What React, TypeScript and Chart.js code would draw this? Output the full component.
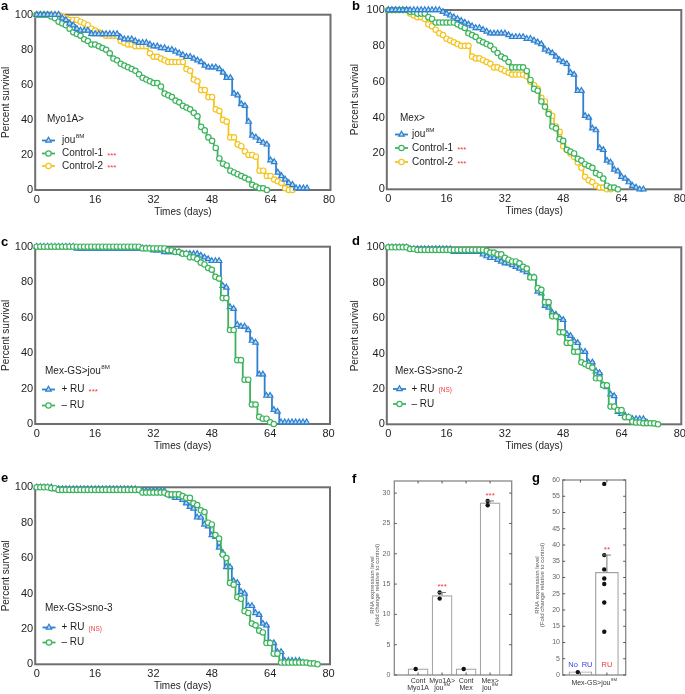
import React, { useEffect, useRef } from 'react';
import { Chart, registerables } from 'chart.js';
import { drawPoint } from 'chart.js/helpers';

Chart.register(...registerables);

const FONT = '"Liberation Sans", Arial, Helvetica, sans-serif';
const TEXT = '#1e1e1e';
const FRAME = '#6e6e6e';
const RED = '#ee3b3b';

// ---------------- DATA ----------------
// Survival panels: percent survival, array index = day
const survXTicks = [0, 16, 32, 48, 64, 80];
const survYTicks = [0, 20, 40, 60, 80, 100];

// a: Myo1A>
const aJou8M = [100,100,100,100,100,100,100,98,97,95,94,92,91,91,91,89,89,89,89,89,89,89,89,
  87,86,86,86,85,84,84,84,83,82,82,81,81,80,80,79,78,77,76,76,75,74,73,71,70,70,70,69,67,64,
  64,55,54,49,48,39,31,30,28,27,26,17,16,10,8,6,4,3,1,1,1,1];
const aControl1 = [100,100,100,100,99,98,96,95,94,92,90,89,88,86,85,83,83,82,81,80,78,75,74,72,
  71,70,69,68,66,64,63,62,61,61,59,55,54,53,51,50,48,47,46,44,42,36,34,30,28,24,18,15,14,11,10,
  9,8,7,6,3,2,1,1,0];
const aControl2 = [100,100,100,100,100,100,100,99,98,97,97,97,96,95,94,92,91,90,89,88,88,88,88,
  85,84,83,83,82,82,82,82,78,76,76,75,74,73,73,73,73,73,69,68,63,62,57,57,53,53,46,45,40,39,30,
  30,26,25,22,20,20,19,11,11,8,8,6,5,4,1,0,0];

// b: Mex>
const bJou8M = [100,100,100,100,100,100,100,100,100,100,100,100,100,100,100,
  99,98,97,96,95,94,93,92,91,90, 90,89,88,87,87,87,87,87,86,85, 85,85,85,84,84,83,82,81,78,77,
  76,74,72,71,70,65,64,55,55,41, 40,34,33,23,22,16,15,11,10,7, 6,4,2,1,0,0];
const bControl1 = [100,100,100,100,100,100, 99,99,98,98,98,96,95,93,93,93, 93,93,93,92,91,90,87,86,85,83,
  82,81,80,78,76,74,73,71,68,68, 68,68,66,61,56,55,49,46,42,35, 34,28,27,22,21,20,17,16,14,13,
  12,9,8,6,2,1,1,0];
const bControl2 = [100,100,100,100,100,100, 98,97,96,96,95,92,91,89,87,86, 84,83,82,81,80,80,80,74,73,73,
  72,71,70,68,68,67,66,65,64,64, 64,64,63,60,58,56,51,49,43,41, 35,32,24,22,20,18,15,12,7,5,
  4,2,1,1,0,0];

// c: Mex-GS>jou8M
const cPlusRU = [100,100,100,100,100,100,100,100,100,100,100,
  99,99,99,99,99,99,99,99,99,99,99,99,99,99,99,99,99,99,99,99,99,
  98,98,98,97,97,97,97,97, 96,96,96,96,96,95,94,93,92,92, 92,78,77,66,65,56,55,55,53,47,
  46,28,28,16,16,8,7,1,1,1, 1,1,1,1,1];
const cMinusRU = [100,100,100,100,100,100,100,100,100,100,100,100,100,100,100,100,100,100,100,100,
  100,100,100,100,100,100,100,100,100, 99,99,99,99,99,99,99,
  98,98,97,97,96,96,94,94,93,91, 90,88,87,83,82,71,71,53,53,36, 36,25,25,11,11,4,3,3,1,0];

// d: Mex-GS>sno-2
const dPlusRU = [100,100,100,100,100,100, 99,99,99,99,99,99,99,99,99,99,99,99,
  97.5,97.5,97.5,97.5,97.5,97.5,97.5,97.5, 96,95,94,94,93,92,91,91,90,89,
  88,87,86,83,83,75,74,67,66,63, 62,60,59,51,50,47,46,41,41,35, 35,30,29,22,21,17,16,7,6,5,
  4,3,3,3,3,1];
const dMinusRU = [100,100,100,100,100,100, 99,99,
  98.5,98.5,98.5,98.5,98.5,98.5,98.5,98.5,98.5,98.5,98.5,98.5,98.5,98.5,98.5,98.5,98.5,98.5,98.5,
  98,97,97,96,96,94,93,92,92,91, 89,88,83,83,77,76,69,69,61,61, 52,52,46,46,41,41,35,34,33,32,
  26,26,22,22,10,10,8,8,4,4, 1.5,1,1,0.6,0.6,0.6,0.5,0];

// e: Mex-GS>sno-3
const ePlusRU = [100,100,100,100,100,
  99,99,99,99,99,99,99,99,99,99,99,99,99,99,99,99,99,99,99,99,99,99,99,
  98,98,98,98,98,98,98,98, 96,95,94,94,93,91,89,88,83,83, 79,78,73,72,66,63,55,55,47,46,
  41,40,33,33,29,28,23,22,12,12, 7,7,2,2,2,2,2,1];
const eMinusRU = [100,100,100,100, 99.5,99.5,
  98.5,98.5,98.5,98.5,98.5,98.5,98.5,98.5,98.5,98.5,98.5,98.5,98.5,98.5,98.5,98.5,98.5,98.5,98.5,98.5,98.5,98.5,98.5,
  97,97,97,97,97,97,97, 96,96,96,96,95,94,94,91,90,87, 86,80,79,73,71,62,60,46,45,38,
  37,30,29,23,22,19,18,12,12,6, 6,1,1,1,1,1,1,1,1,0.5,0.5,0];

// f: RNA expression level
const fCategories = ['Cont|Myo1A', 'Myo1A>|jou^8M', 'Cont|Mex', 'Mex>|jou^8M'];
const fMeans = [1.0, 13.1, 1.0, 28.4];
const fErrTop = [1.0, 13.6, 1.0, 28.7];
const fDots = [[1.0], [13.6, 12.6], [1.0], [28.7, 28.0]];
const fSig = ['', '***', '', '***'];
const fYTicks = [0, 5, 10, 15, 20, 25, 30];

// g: RNA expression level, Mex-GS>jou8M
const gCategories = ['No\u2002RU', 'RU'];
const gMeans = [1.0, 31.6];
const gErrTop = [1.0, 36.9];
const gDots = [[0.9], [58.8, 36.9, 32.5, 29.7, 28.0, 22.3, 13.3]];
const gSig = ['', '**'];
const gYTicks = [0, 5, 10, 15, 20, 25, 30, 35, 40, 45, 50, 55, 60];

// ---------------- STYLES / LAYOUT ----------------
type Box = { x: number; y: number; w: number; h: number };
type Area = { l: number; t: number; r: number; b: number };
type Style = { line: string; fill: string; shape: 'triangle' | 'circle'; r: number };

const BLUE: Style = { line: '#2f80d0', fill: '#bcdcf6', shape: 'triangle', r: 3.2 };
const GREEN: Style = { line: '#3cb45c', fill: '#ffffff', shape: 'circle', r: 2.7 };
const YELLOW: Style = { line: '#f4c420', fill: '#ffffff', shape: 'circle', r: 2.7 };

type SeriesDef = { label: string; values: number[]; st: Style; mark?: string; z: number };
type PanelDef = {
  box: Box; area: Area; letter: string; letterXY: [number, number]; yTitleX: number;
  legendTitle: string; legendTitleXY: [number, number]; markerX: number; textX: number; rowYs: number[];
  series: SeriesDef[];
};

const panels: PanelDef[] = [
  {
    box: { x: 0, y: 0, w: 342, h: 218 }, area: { l: 36.7, t: 14.7, r: 329, b: 190 },
    letter: 'a', letterXY: [1, 10], yTitleX: 6,
    legendTitle: 'Myo1A>', legendTitleXY: [47, 119], markerX: 48.5, textX: 62, rowYs: [140.5, 153.5, 166],
    series: [
      { label: 'jou^8M', values: aJou8M, st: BLUE, z: 0 },
      { label: 'Control-1', values: aControl1, st: GREEN, mark: '***', z: 1 },
      { label: 'Control-2', values: aControl2, st: YELLOW, mark: '***', z: 2 },
    ],
  },
  {
    box: { x: 342, y: 0, w: 343, h: 218 }, area: { l: 388.3, t: 10, r: 680, b: 189.3 },
    letter: 'b', letterXY: [352, 10], yTitleX: 355.5,
    legendTitle: 'Mex>', legendTitleXY: [400, 118], markerX: 401.5, textX: 412, rowYs: [134.5, 148, 162],
    series: [
      { label: 'jou^8M', values: bJou8M, st: BLUE, z: 0 },
      { label: 'Control-1', values: bControl1, st: GREEN, mark: '***', z: 1 },
      { label: 'Control-2', values: bControl2, st: YELLOW, mark: '***', z: 2 },
    ],
  },
  {
    box: { x: 0, y: 228, w: 342, h: 228 }, area: { l: 36.7, t: 246.7, r: 328.5, b: 424 },
    letter: 'c', letterXY: [1, 246], yTitleX: 6,
    legendTitle: 'Mex-GS>jou^8M', legendTitleXY: [45, 371], markerX: 48.5, textX: 61.5, rowYs: [389.5, 405.5],
    series: [
      { label: '+ RU', values: cPlusRU, st: BLUE, mark: '***', z: 1 },
      { label: '\u2013 RU', values: cMinusRU, st: GREEN, z: 0 },
    ],
  },
  {
    box: { x: 342, y: 228, w: 343, h: 228 }, area: { l: 388.3, t: 247.3, r: 680, b: 424.3 },
    letter: 'd', letterXY: [352, 245], yTitleX: 355.5,
    legendTitle: 'Mex-GS>sno-2', legendTitleXY: [395, 371.5], markerX: 399.5, textX: 411.5, rowYs: [389, 404],
    series: [
      { label: '+ RU', values: dPlusRU, st: BLUE, mark: '(NS)', z: 1 },
      { label: '\u2013 RU', values: dMinusRU, st: GREEN, z: 0 },
    ],
  },
  {
    box: { x: 0, y: 468, w: 342, h: 226 }, area: { l: 36.7, t: 487.3, r: 328.5, b: 664.3 },
    letter: 'e', letterXY: [1, 482], yTitleX: 6,
    legendTitle: 'Mex-GS>sno-3', legendTitleXY: [45, 608], markerX: 49, textX: 61.5, rowYs: [627.5, 642.5],
    series: [
      { label: '+ RU', values: ePlusRU, st: BLUE, mark: '(NS)', z: 1 },
      { label: '\u2013 RU', values: eMinusRU, st: GREEN, z: 0 },
    ],
  },
];

type BarDef = {
  box: Box; area: Area; letter: string; letterXY: [number, number];
  xMin: number; xMax: number; yMax: number; yTicks: number[];
  means: number[]; errTop: number[]; dots: number[][]; sig: string[];
  barW: number; jitter: number; tickPad: number;
  catLabels?: string[]; catLabelYs?: number[];
  inner?: { labels: string[]; colors: string[]; y: number };
  group?: { label: string; y: number };
  yTitleLines: string[]; yTitleXs: number[]; yTitleCY: number;
};

const barPanels: BarDef[] = [
  {
    box: { x: 350, y: 470, w: 180, h: 224 }, area: { l: 394.3, t: 481, r: 511.7, b: 675 },
    letter: 'f', letterXY: [352, 483],
    xMin: -0.99, xMax: 3.9, yMax: 32, yTicks: fYTicks,
    means: fMeans, errTop: fErrTop, dots: fDots, sig: fSig,
    barW: 20, jitter: -0.1, tickPad: 4,
    catLabels: fCategories, catLabelYs: [680.7, 687.9],
    yTitleLines: ['RNA expression level', '(fold change relative to control)'], yTitleXs: [372, 377.8], yTitleCY: 585,
  },
  {
    box: { x: 530, y: 470, w: 155, h: 224 }, area: { l: 562.7, t: 480, r: 625.7, b: 675 },
    letter: 'g', letterXY: [532, 482],
    xMin: -0.67, xMax: 1.71, yMax: 60, yTicks: gYTicks,
    means: gMeans, errTop: gErrTop, dots: gDots, sig: gSig,
    barW: 23, jitter: -0.1, tickPad: 2.7,
    inner: { labels: gCategories, colors: ['#3a44e0', '#e23a3e'], y: 665 },
    group: { label: 'Mex-GS>jou^8M', y: 683 },
    yTitleLines: ['RNA expression level', '(Fold change relative to control)'], yTitleXs: [537, 542.8], yTitleCY: 585,
  },
];

// ---------------- HELPERS ----------------
function rich(ctx: CanvasRenderingContext2D, text: string, x: number, y: number, size: number,
  color: string, align: 'left' | 'center' = 'left'): number {
  const [main, sup] = text.split('^');
  const ss = size * 0.62;
  ctx.font = `${size}px ${FONT}`;
  const w1 = ctx.measureText(main).width;
  let w2 = 0;
  if (sup) { ctx.font = `${ss}px ${FONT}`; w2 = ctx.measureText(sup).width + 0.5; }
  const x0 = align === 'center' ? x - (w1 + w2) / 2 : x;
  ctx.fillStyle = color; ctx.textAlign = 'left'; ctx.textBaseline = 'middle';
  ctx.font = `${size}px ${FONT}`;
  ctx.fillText(main, x0, y);
  if (sup) { ctx.font = `${ss}px ${FONT}`; ctx.fillText(sup, x0 + w1 + 0.5, y - size * 0.42); }
  return w1 + w2;
}

function geometry(box: Box, area: Area) {
  return {
    padTop: area.t - box.y,
    padRight: box.x + box.w - area.r,
    yW: area.l - box.x,
    xH: box.y + box.h - area.b,
  };
}

function survivalPlugin(p: PanelDef) {
  return {
    id: 'surv-' + p.letter,
    beforeDatasetsDraw(chart: any) {
      const { ctx, chartArea: a } = chart;
      ctx.save();
      ctx.strokeStyle = FRAME; ctx.lineWidth = 2;
      ctx.strokeRect(a.left - 1.5, a.top, a.right - a.left + 3, a.bottom - a.top);
      ctx.restore();
    },
    afterDraw(chart: any) {
      const ctx: CanvasRenderingContext2D = chart.ctx;
      ctx.save();
      ctx.translate(-p.box.x, -p.box.y);
      // panel letter
      ctx.font = `bold 13px ${FONT}`; ctx.fillStyle = '#000';
      ctx.textAlign = 'left'; ctx.textBaseline = 'alphabetic';
      ctx.fillText(p.letter, p.letterXY[0], p.letterXY[1]);
      // y title
      ctx.save();
      ctx.translate(p.yTitleX, (p.area.t + p.area.b) / 2);
      ctx.rotate(-Math.PI / 2);
      ctx.font = `10px ${FONT}`; ctx.fillStyle = TEXT; ctx.textAlign = 'center'; ctx.textBaseline = 'middle';
      ctx.fillText('Percent survival', 0, 0);
      ctx.restore();
      // x title
      ctx.font = `10px ${FONT}`; ctx.fillStyle = TEXT; ctx.textAlign = 'center'; ctx.textBaseline = 'middle';
      ctx.fillText('Times (days)', (p.area.l + p.area.r) / 2, p.area.b + 22);
      // legend
      rich(ctx, p.legendTitle, p.legendTitleXY[0], p.legendTitleXY[1], 10, TEXT);
      p.series.forEach((s, i) => {
        const y = p.rowYs[i];
        ctx.strokeStyle = s.st.line; ctx.lineWidth = 1.8;
        ctx.beginPath(); ctx.moveTo(p.markerX - 6.5, y); ctx.lineTo(p.markerX + 6.5, y); ctx.stroke();
        ctx.fillStyle = s.st.fill; ctx.strokeStyle = s.st.line; ctx.lineWidth = 1.2;
        drawPoint(ctx, { pointStyle: s.st.shape, radius: s.st.r, borderWidth: 1.2, rotation: 0 } as any, p.markerX, y);
        const w = rich(ctx, s.label, p.textX, y, 10, TEXT);
        if (s.mark === '***') {
          ctx.font = `8px ${FONT}`; ctx.fillStyle = RED; ctx.textAlign = 'left'; ctx.textBaseline = 'middle';
          ctx.fillText('***', p.textX + w + 4, y + 2);
        } else if (s.mark) {
          ctx.font = `6.5px ${FONT}`; ctx.fillStyle = RED; ctx.textAlign = 'left'; ctx.textBaseline = 'middle';
          ctx.fillText(s.mark, p.textX + w + 4, y + 1.5);
        }
      });
      ctx.restore();
    },
  };
}

function buildSurvival(canvas: HTMLCanvasElement, p: PanelDef): Chart {
  const g = geometry(p.box, p.area);
  const datasets = p.series.map((s) => ({
    type: 'line' as const,
    label: s.label.replace('^', ''),
    data: s.values.map((v, d) => ({ x: d, y: v })),
    borderColor: s.st.line,
    backgroundColor: s.st.fill,
    borderWidth: 1.8,
    pointStyle: s.st.shape,
    pointRadius: s.st.r,
    pointBorderWidth: 1.2,
    pointBorderColor: s.st.line,
    pointBackgroundColor: s.st.fill,
    stepped: 'middle' as const,
    fill: false,
    clip: 6,
    order: s.z,
  }));
  const tickFont = { family: FONT, size: 11 };
  return new Chart(canvas, {
    type: 'line',
    data: { datasets },
    options: {
      responsive: false, animation: false, devicePixelRatio: 1,
      layout: { padding: { left: 0, top: g.padTop, right: g.padRight, bottom: 0 } },
      plugins: { legend: { display: false }, tooltip: { enabled: false } },
      scales: {
        x: {
          type: 'linear', min: 0, max: 80,
          grid: { display: false, drawTicks: false }, border: { display: false },
          afterBuildTicks: (s: any) => { s.ticks = survXTicks.map((value) => ({ value })); },
          ticks: { font: tickFont, color: TEXT, padding: 3, maxRotation: 0, autoSkip: false },
          afterFit: (s: any) => { s.height = g.xH; s.paddingLeft = 0; s.paddingRight = 0; },
        },
        y: {
          type: 'linear', min: 0, max: 100,
          grid: { display: false, drawTicks: false }, border: { display: false },
          afterBuildTicks: (s: any) => { s.ticks = survYTicks.map((value) => ({ value })); },
          ticks: { font: tickFont, color: TEXT, padding: 3.5 },
          afterFit: (s: any) => { s.width = g.yW; s.paddingTop = 0; s.paddingBottom = 0; },
        },
      },
    } as any,
    plugins: [survivalPlugin(p)],
  });
}

function barPlugin(q: BarDef) {
  return {
    id: 'bar-' + q.letter,
    afterDatasetsDraw(chart: any) {
      const ctx: CanvasRenderingContext2D = chart.ctx;
      const xs = chart.scales.x, ys = chart.scales.y;
      ctx.save();
      ctx.strokeStyle = '#777'; ctx.lineWidth = 1;
      q.means.forEach((m, i) => {
        if (q.errTop[i] <= m) return;
        const x = xs.getPixelForValue(i);
        const y1 = ys.getPixelForValue(m), y2 = ys.getPixelForValue(q.errTop[i]);
        ctx.beginPath();
        ctx.moveTo(x, y1); ctx.lineTo(x, y2);
        ctx.moveTo(x - 4, y2); ctx.lineTo(x + 4, y2);
        ctx.stroke();
      });
      ctx.restore();
    },
    afterDraw(chart: any) {
      const ctx: CanvasRenderingContext2D = chart.ctx;
      const xs = chart.scales.x, ys = chart.scales.y;
      const a = chart.chartArea;
      ctx.save();
      // frame
      ctx.strokeStyle = '#888'; ctx.lineWidth = 1.3;
      ctx.strokeRect(a.left, a.top, a.right - a.left, a.bottom - a.top);
      // inward tick marks
      ctx.strokeStyle = '#555'; ctx.lineWidth = 1;
      ctx.beginPath();
      q.yTicks.forEach((v) => {
        const y = ys.getPixelForValue(v);
        ctx.moveTo(a.left, y); ctx.lineTo(a.left + 2.5, y);
        ctx.moveTo(a.right, y); ctx.lineTo(a.right - 2.5, y);
      });
      q.means.forEach((_, i) => {
        const x = xs.getPixelForValue(i);
        ctx.moveTo(x, a.top); ctx.lineTo(x, a.top + 2.5);
        ctx.moveTo(x, a.bottom); ctx.lineTo(x, a.bottom - 2.5);
      });
      ctx.stroke();
      // significance
      ctx.font = `8px ${FONT}`; ctx.fillStyle = RED; ctx.textAlign = 'center'; ctx.textBaseline = 'alphabetic';
      q.sig.forEach((s, i) => {
        if (!s) return;
        ctx.fillText(s, xs.getPixelForValue(i), ys.getPixelForValue(q.errTop[i]) - 3.5);
      });
      // page-coordinate texts
      ctx.translate(-q.box.x, -q.box.y);
      const cx = (i: number) => xs.getPixelForValue(i) + q.box.x;
      if (q.catLabels && q.catLabelYs) {
        q.catLabels.forEach((lab, i) => {
          lab.split('|').forEach((line, j) => rich(ctx, line, cx(i), q.catLabelYs![j], 7, '#333', 'center'));
        });
      }
      if (q.inner) {
        q.inner.labels.forEach((lab, i) => rich(ctx, lab, cx(i), q.inner!.y, 7.5, q.inner!.colors[i], 'center'));
      }
      if (q.group) {
        rich(ctx, q.group.label, (q.area.l + q.area.r) / 2, q.group.y, 7, '#333', 'center');
      }
      // y titles
      q.yTitleLines.forEach((line, j) => {
        ctx.save();
        ctx.translate(q.yTitleXs[j], q.yTitleCY);
        ctx.rotate(-Math.PI / 2);
        ctx.font = `6px ${FONT}`; ctx.fillStyle = '#555'; ctx.textAlign = 'center'; ctx.textBaseline = 'middle';
        ctx.fillText(line, 0, 0);
        ctx.restore();
      });
      // letter
      ctx.font = `bold 13px ${FONT}`; ctx.fillStyle = '#000'; ctx.textAlign = 'left'; ctx.textBaseline = 'alphabetic';
      ctx.fillText(q.letter, q.letterXY[0], q.letterXY[1]);
      ctx.restore();
    },
  };
}

function buildBar(canvas: HTMLCanvasElement, q: BarDef): Chart {
  const g = geometry(q.box, q.area);
  const dotData = q.dots.flatMap((arr, i) => arr.map((v) => ({ x: i + q.jitter, y: v })));
  return new Chart(canvas, {
    type: 'bar',
    data: {
      datasets: [
        {
          type: 'scatter', data: dotData, pointRadius: 2.2, pointBackgroundColor: '#111',
          pointBorderColor: '#111', pointBorderWidth: 0, order: 0, clip: 4,
        },
        {
          type: 'bar', data: q.means.map((v, i) => ({ x: i, y: v })), backgroundColor: '#ffffff',
          borderColor: '#a0a0a0', borderWidth: 1.2, barThickness: q.barW, order: 1,
        },
      ],
    } as any,
    options: {
      responsive: false, animation: false, devicePixelRatio: 1,
      layout: { padding: { left: 0, top: g.padTop, right: g.padRight, bottom: 0 } },
      plugins: { legend: { display: false }, tooltip: { enabled: false } },
      scales: {
        x: {
          type: 'linear', min: q.xMin, max: q.xMax, offset: false,
          grid: { display: false, drawTicks: false, offset: false }, border: { display: false },
          ticks: { display: false },
          afterFit: (s: any) => { s.height = g.xH; s.paddingLeft = 0; s.paddingRight = 0; },
        },
        y: {
          type: 'linear', min: 0, max: q.yMax,
          grid: { display: false, drawTicks: false }, border: { display: false },
          afterBuildTicks: (s: any) => { s.ticks = q.yTicks.map((value) => ({ value })); },
          ticks: { font: { family: FONT, size: 7 }, color: '#666', padding: q.tickPad },
          afterFit: (s: any) => { s.width = g.yW; s.paddingTop = 0; s.paddingBottom = 0; },
        },
      },
    } as any,
    plugins: [barPlugin(q)],
  });
}

function ChartBox({ box, build }: { box: Box; build: (c: HTMLCanvasElement) => Chart }) {
  const ref = useRef<HTMLCanvasElement>(null);
  useEffect(() => {
    const ch = build(ref.current as HTMLCanvasElement);
    return () => ch.destroy();
  }, []);
  return (
    <canvas
      ref={ref}
      width={box.w}
      height={box.h}
      style={{ position: 'absolute', left: box.x, top: box.y, width: box.w, height: box.h }}
    />
  );
}

export default function App() {
  return (
    <div style={{ position: 'absolute', left: 0, top: 0, width: 685, height: 694, background: '#fff', overflow: 'hidden' }}>
      {panels.map((p) => (
        <ChartBox key={p.letter} box={p.box} build={(c) => buildSurvival(c, p)} />
      ))}
      {barPanels.map((q) => (
        <ChartBox key={q.letter} box={q.box} build={(c) => buildBar(c, q)} />
      ))}
    </div>
  );
}
